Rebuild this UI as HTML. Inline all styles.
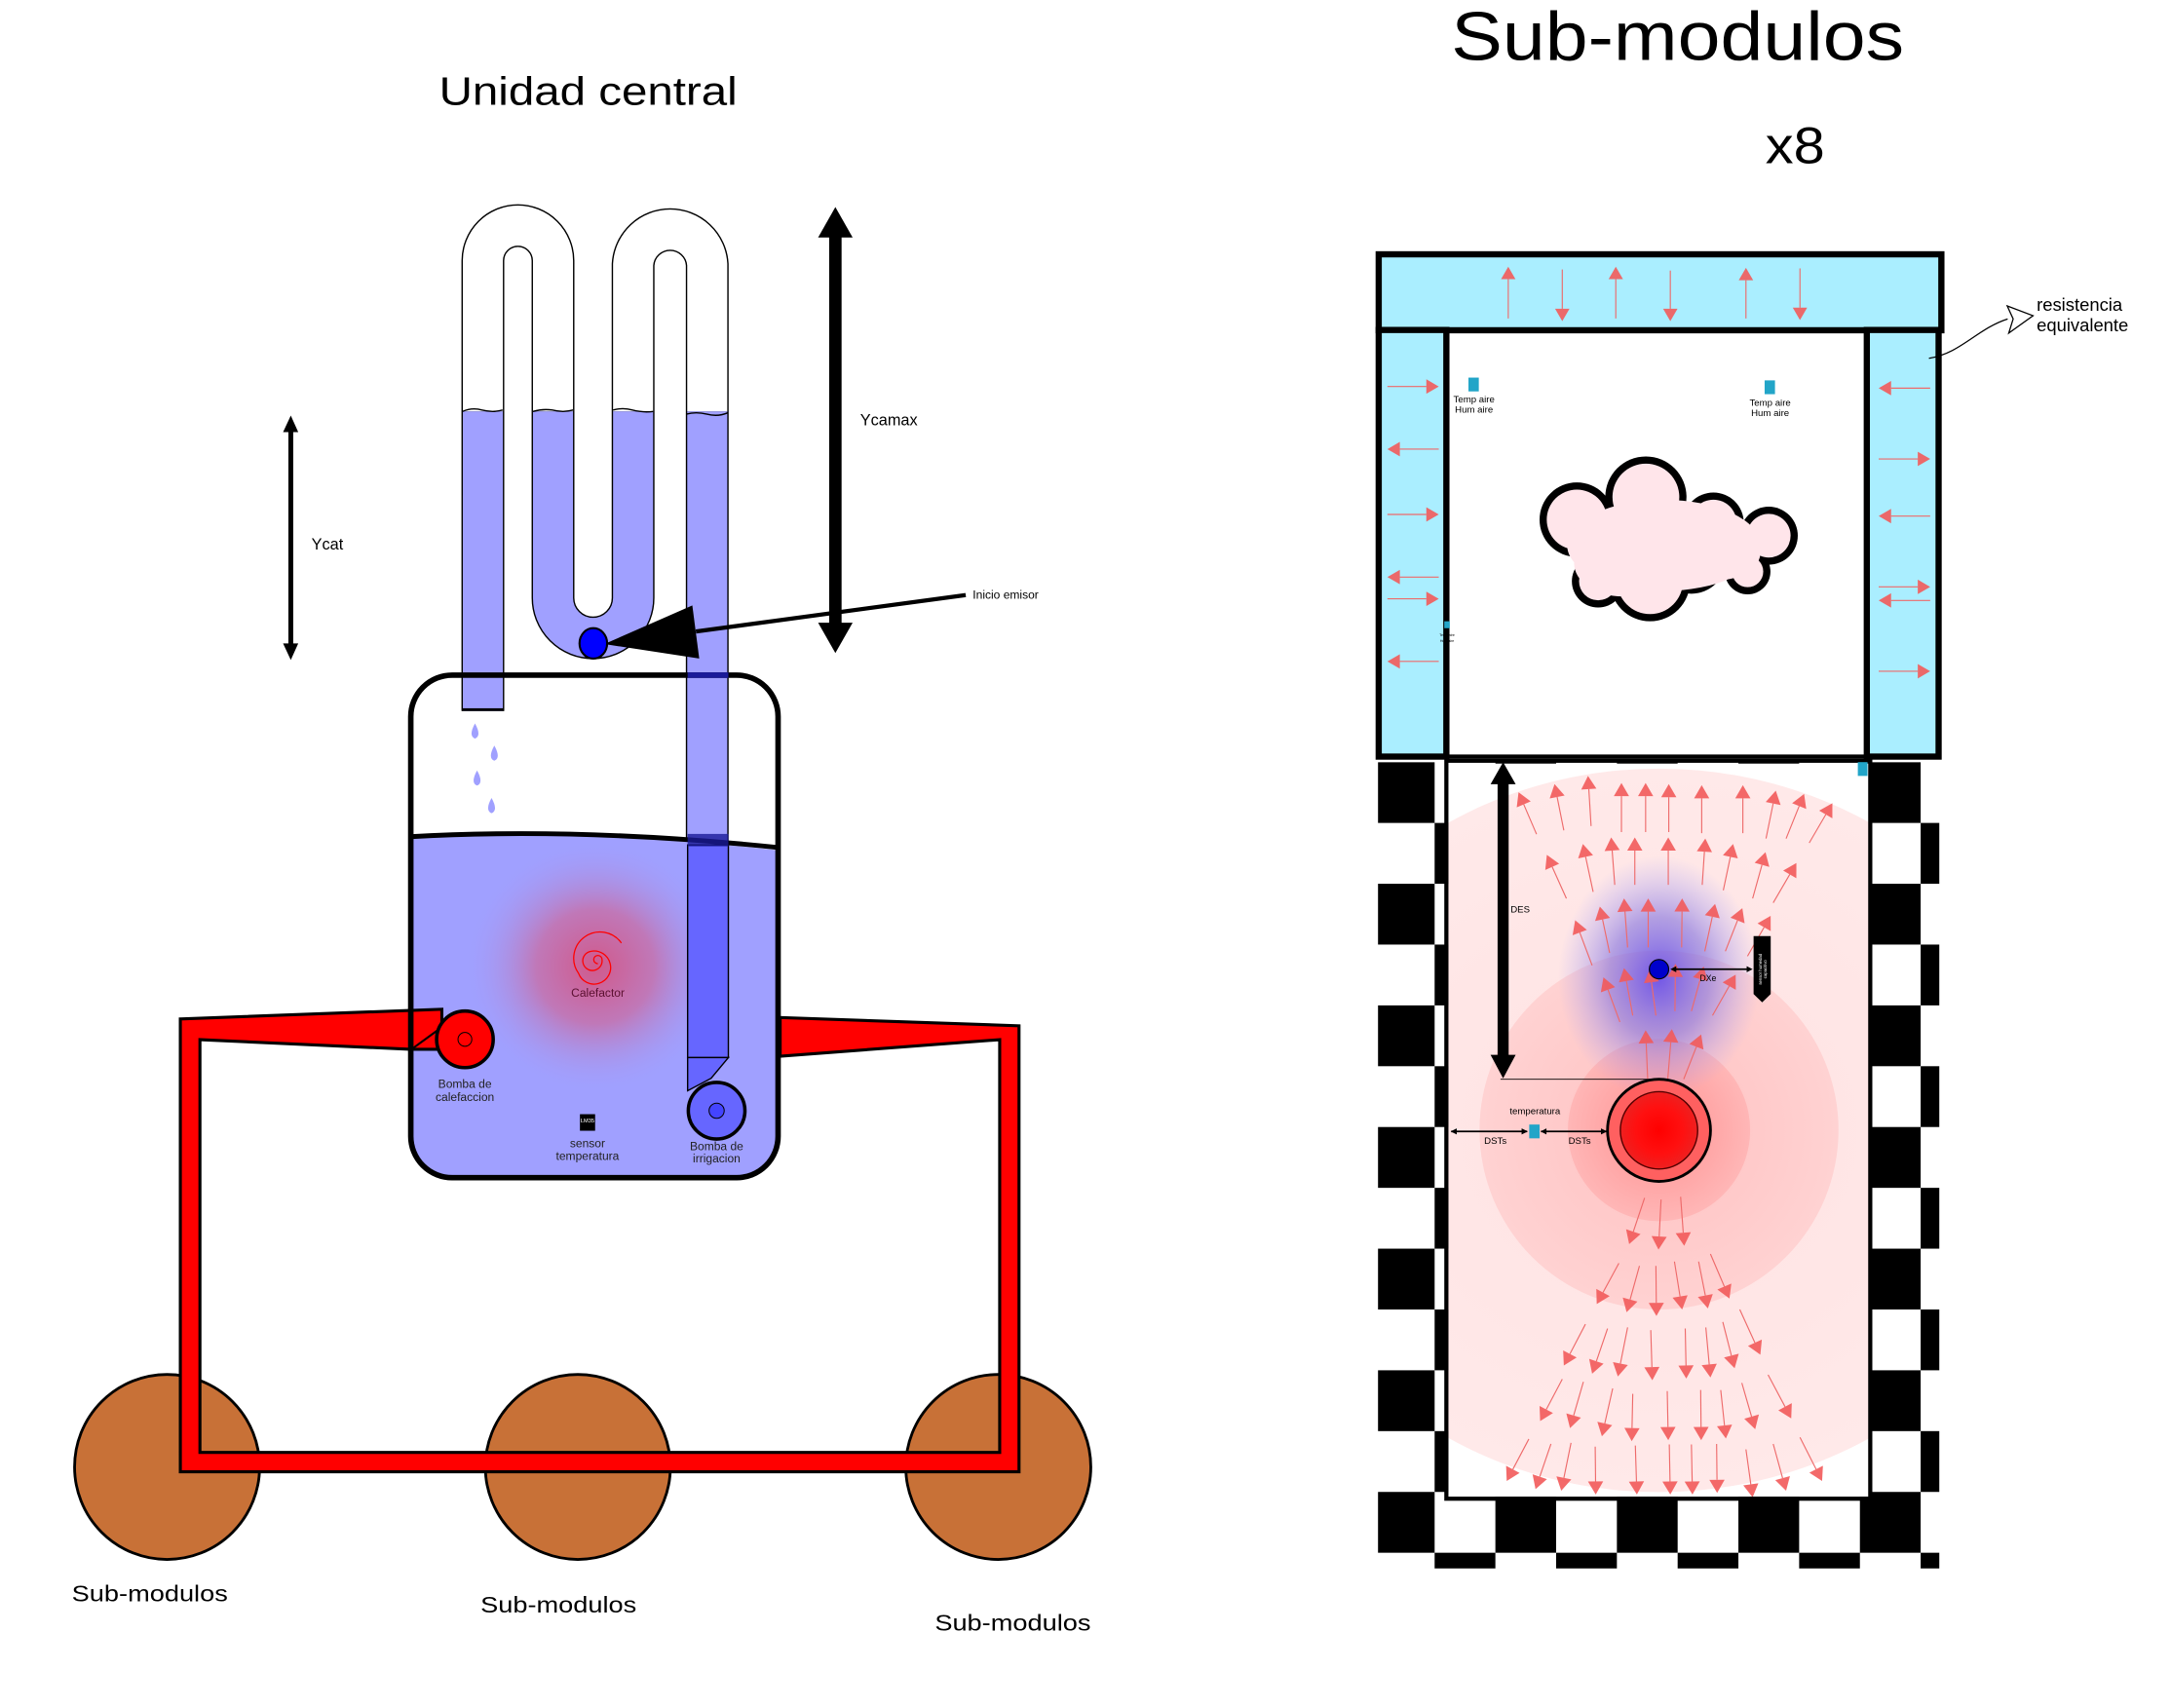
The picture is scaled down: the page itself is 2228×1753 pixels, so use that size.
<!DOCTYPE html>
<html><head><meta charset="utf-8">
<style>
html,body{margin:0;padding:0;background:#fff;}
svg{display:block;}
text{font-family:"Liberation Sans","DejaVu Sans",sans-serif;}
</style></head>
<body>
<svg id="root" width="2228" height="1753" viewBox="0 0 1572.3 1237.1" xmlns="http://www.w3.org/2000/svg">
<defs>
  <radialGradient id="heatGlow" cx="0.5" cy="0.5" r="0.5">
    <stop offset="0" stop-color="#d05a8c"/>
    <stop offset="0.45" stop-color="#c078b8"/>
    <stop offset="1" stop-color="#a0a0ff" stop-opacity="0"/>
  </radialGradient>
  <radialGradient id="pinkBig" cx="0.5" cy="0.5" r="0.5">
    <stop offset="0" stop-color="#ffe2e2"/>
    <stop offset="1" stop-color="#ffe9e9"/>
  </radialGradient>
  <radialGradient id="pinkMid" cx="0.5" cy="0.5" r="0.5">
    <stop offset="0" stop-color="#ffc0c0"/>
    <stop offset="1" stop-color="#ffd2d2"/>
  </radialGradient>
  <radialGradient id="pinkIn" cx="0.5" cy="0.5" r="0.5">
    <stop offset="0" stop-color="#ff8080"/>
    <stop offset="1" stop-color="#ffb0b0"/>
  </radialGradient>
  <radialGradient id="blueGlow" cx="0.5" cy="0.5" r="0.5">
    <stop offset="0" stop-color="#6a50e8" stop-opacity="0.95"/>
    <stop offset="0.5" stop-color="#8070e0" stop-opacity="0.6"/>
    <stop offset="1" stop-color="#a0a0ff" stop-opacity="0"/>
  </radialGradient>
  <radialGradient id="heaterCore" cx="0.5" cy="0.5" r="0.5">
    <stop offset="0" stop-color="#ff0000"/>
    <stop offset="0.6" stop-color="#ff1010"/>
    <stop offset="1" stop-color="#ee2020"/>
  </radialGradient>
  <clipPath id="checkClip"><rect x="998" y="552" width="406.5" height="584"/></clipPath>
  <clipPath id="innerClip"><rect x="1049" y="553" width="305" height="531"/></clipPath>
  <clipPath id="aboveWater"><rect x="0" y="0" width="800" height="298"/></clipPath>
  <clipPath id="belowWater"><rect x="0" y="298" width="800" height="600"/></clipPath>
  <clipPath id="tankClip"><rect x="298" y="490" width="266" height="362" rx="28"/></clipPath>
</defs>

<!-- Titles -->
<text x="318" y="75.7" font-size="28.5" textLength="216" lengthAdjust="spacingAndGlyphs">Unidad central</text>
<text x="1051" y="43.4" font-size="50" textLength="328" lengthAdjust="spacingAndGlyphs">Sub-modulos</text>
<text x="1278.6" y="118.3" font-size="37" textLength="43" lengthAdjust="spacingAndGlyphs">x8</text>

<!-- Brown sub-module circles -->
<g fill="#c87137" stroke="#000" stroke-width="2">
  <circle cx="121" cy="1062.5" r="67"/>
  <circle cx="418.5" cy="1062.5" r="67"/>
  <circle cx="723" cy="1062.5" r="67"/>
</g>
<text x="52" y="1160" font-size="16.5" textLength="113" lengthAdjust="spacingAndGlyphs">Sub-modulos</text>
<text x="348" y="1168" font-size="16.5" textLength="113" lengthAdjust="spacingAndGlyphs">Sub-modulos</text>
<text x="677" y="1181" font-size="16.5" textLength="113" lengthAdjust="spacingAndGlyphs">Sub-modulos</text>

<!-- Tank background -->
<rect x="297.5" y="489" width="266" height="364" rx="30" fill="#fff"/>

<!-- Siphon tubes -->
<g fill="none">
  <path d="M349.7,515 L349.7,188.8 A25.4,25.4 0 0 1 400.5,188.8 L400.5,433 A29,29 0 0 0 458.5,433 L458.5,191.6 A26.9,26.9 0 0 1 512.2,191.6 L512.2,766" stroke="#000" stroke-width="31"/>
  <path d="M349.7,515 L349.7,188.8 A25.4,25.4 0 0 1 400.5,188.8 L400.5,433 A29,29 0 0 0 458.5,433 L458.5,191.6 A26.9,26.9 0 0 1 512.2,191.6 L512.2,766" stroke="#fff" stroke-width="29" clip-path="url(#aboveWater)"/>
  <path d="M349.7,515 L349.7,188.8 A25.4,25.4 0 0 1 400.5,188.8 L400.5,433 A29,29 0 0 0 458.5,433 L458.5,191.6 A26.9,26.9 0 0 1 512.2,191.6 L512.2,766" stroke="#a0a0ff" stroke-width="29" clip-path="url(#belowWater)"/>
  <rect x="334.5" y="513" width="30.5" height="2" fill="#000"/>
  <path d="M335,298 q7,-3 14,-1 q8,2 15,0 M386,298 q7,-2 14,-1 q8,2 15,0 M444,297 q7,-2 14,0 q8,2 15,1 M497,300 q7,-2 15,0 q8,2 15,-1" stroke="#000" stroke-width="1"/>
</g>

<!-- Tank -->
<g>
  <path d="M297,607 Q420,600 565,616 L565,855 L297,855 Z" fill="#a0a0ff" clip-path="url(#tankClip)"/>
  <ellipse cx="431" cy="700" rx="95" ry="92" fill="url(#heatGlow)"/>
  <rect x="498" y="612" width="29.5" height="154" fill="#6666ff" stroke="#000" stroke-width="1"/>
  <path d="M498,766 L527.5,766 L515,781 L498,790 Z" fill="#6666ff" stroke="#000" stroke-width="1"/>
  <path d="M297,606 Q420,599 565,614" fill="none" stroke="#000" stroke-width="3.5"/>
  <rect x="297.5" y="489" width="266" height="364" rx="30" fill="none" stroke="#000" stroke-width="4"/>
  <rect x="498" y="487" width="29.5" height="4" fill="#1a1a99"/>
  <rect x="498" y="604" width="29.5" height="9" fill="#1a1a99" opacity="0.8"/>
  <path d="M431,703 a3,3 0 1 1 3,-3 a7,7 0 1 1 -8,-6 a12,12 0 1 1 -9,16 a17,17 0 0 1 31,-22" fill="none" stroke="#ff0000" stroke-width="0.9" transform="translate(2,-5)"/>
  <text x="433" y="722" font-size="8.5" fill="#5a1030" text-anchor="middle">Calefactor</text>
  <text x="336.7" y="788" font-size="8.5" text-anchor="middle" fill="#222">Bomba de</text>
  <text x="336.7" y="797.5" font-size="8.5" text-anchor="middle" fill="#222">calefaccion</text>
  <rect x="420" y="807" width="11" height="12" fill="#000"/>
  <text x="425.5" y="813" font-size="4" fill="#fff" text-anchor="middle">LM35</text>
  <text x="425.5" y="831" font-size="8.5" text-anchor="middle" fill="#222">sensor</text>
  <text x="425.5" y="840" font-size="8.5" text-anchor="middle" fill="#222">temperatura</text>
  <circle cx="519" cy="804.5" r="20.5" fill="#6666ff" stroke="#000" stroke-width="2.5"/>
  <circle cx="519" cy="804.5" r="5.5" fill="#4444ff" stroke="#000" stroke-width="0.7"/>
  <text x="519" y="833" font-size="8.5" text-anchor="middle" fill="#222">Bomba de</text>
  <text x="519" y="842" font-size="8.5" text-anchor="middle" fill="#222">irrigacion</text>
</g>

<!-- Red pipe loop -->
<path d="M130.6,738 L320,731 L320,760 L297.4,760 L144.8,753 L144.8,1052 L724,1052 L724,753 L565,765 L565,737 L738,743 L738,1066 L130.6,1066 Z" fill="#ff0000" stroke="#000" stroke-width="2.2" stroke-linejoin="miter"/>
<line x1="297.5" y1="731" x2="297.5" y2="760" stroke="#000" stroke-width="4"/>
<path d="M298,760 L320,744" stroke="#000" stroke-width="1.5"/>
<circle cx="336.7" cy="752.8" r="20.5" fill="#ff0000" stroke="#000" stroke-width="2.5"/>
<circle cx="336.7" cy="752.8" r="5" fill="none" stroke="#000" stroke-width="0.7"/>

<!-- Drops -->
<g fill="#a0a0ff">
  <path d="M344,524 q-5,9 0,11 q5,-2 0,-11z"/>
  <path d="M358,540 q-5,9 0,11 q5,-2 0,-11z"/>
  <path d="M345.5,558 q-5,9 0,11 q5,-2 0,-11z"/>
  <path d="M356,578 q-5,9 0,11 q5,-2 0,-11z"/>
</g>

<!-- Ycat arrow -->
<g>
  <line x1="210.6" y1="310" x2="210.6" y2="470" stroke="#000" stroke-width="3.5"/>
  <polygon points="210.6,301 205,313 216,313" fill="#000"/>
  <polygon points="210.6,478 205,466 216,466" fill="#000"/>
</g>
<text x="225.6" y="398" font-size="11.5">Ycat</text>
<!-- Ycamax arrow -->
<g>
  <line x1="605" y1="165" x2="605" y2="458" stroke="#000" stroke-width="9"/>
  <polygon points="605,150 592.5,172 617.5,172" fill="#000"/>
  <polygon points="605,473 592.5,451 617.5,451" fill="#000"/>
</g>
<text x="623" y="308" font-size="11.5">Ycamax</text>
<!-- Inicio emisor -->
<g>
  <path d="M699.4,431 L504,457.4" stroke="#000" stroke-width="3"/>
  <polygon points="501.4,438.5 506.4,477 437.7,466.5" fill="#000"/>
  <ellipse cx="429.7" cy="466" rx="10" ry="11" fill="#0000ff" stroke="#000" stroke-width="1.5"/>
</g>
<text x="704.5" y="433.7" font-size="8.5">Inicio emisor</text>

<!-- ============ Right: Sub-module ============ -->
<g clip-path="url(#checkClip)" id="checker"></g>

<g id="field" clip-path="url(#innerClip)">
  <rect x="1049" y="553" width="305" height="531" fill="#fff"/>
  <ellipse cx="1201.5" cy="818.7" rx="290" ry="262" fill="url(#pinkBig)"/>
  <circle cx="1201.5" cy="818.5" r="130" fill="url(#pinkMid)"/>
  <circle cx="1201.5" cy="818.5" r="66" fill="url(#pinkIn)" opacity="0.75"/>
  <ellipse cx="1201.5" cy="708" rx="73" ry="88" fill="url(#blueGlow)"/>
  <g id="fieldArrows"></g>
</g>
<rect x="1047.5" y="551" width="307" height="534.5" fill="none" stroke="#000" stroke-width="3"/>

<!-- Top enclosure -->
<g>
  <rect x="1047" y="239" width="305" height="310" fill="#fff"/>
  <rect x="998.5" y="184.2" width="407.5" height="55" fill="#aaeeff" stroke="#000" stroke-width="4.5"/>
  <rect x="998.5" y="239" width="49" height="309" fill="#aaeeff" stroke="#000" stroke-width="4.5"/>
  <rect x="1352" y="239" width="52" height="309" fill="#aaeeff" stroke="#000" stroke-width="4.5"/>
  <line x1="1047.5" y1="548" x2="1354" y2="548" stroke="#000" stroke-width="3"/>
  <g id="wallArrows"></g>
</g>

<!-- Cloud -->
<g id="cloud"></g>

<!-- Sensors -->
<rect x="1063.5" y="273.5" width="7.5" height="10" fill="#22a5c8"/>
<text x="1067.5" y="291.5" font-size="6.8" text-anchor="middle">Temp aire</text>
<text x="1067.5" y="299" font-size="6.8" text-anchor="middle">Hum aire</text>
<rect x="1278" y="275.5" width="7.5" height="10" fill="#22a5c8"/>
<text x="1282" y="293.8" font-size="6.8" text-anchor="middle">Temp aire</text>
<text x="1282" y="301.5" font-size="6.8" text-anchor="middle">Hum aire</text>
<rect x="1046" y="450" width="4" height="5" fill="#22a5c8"/>
<text x="1048" y="461" font-size="2.5" text-anchor="middle">Temp aire</text>
<text x="1048" y="465" font-size="2.5" text-anchor="middle">Hum aire</text>
<rect x="1345.5" y="552" width="7" height="10" fill="#22a5c8"/>

<!-- Resistance label -->
<path d="M1397,259.5 C1420,256 1432,238 1454,231" fill="none" stroke="#000" stroke-width="0.9"/>
<polygon points="1453.7,221.6 1472.4,228.7 1454.8,241.3 1458,231" fill="#fff" stroke="#000" stroke-width="0.9"/>
<text x="1475" y="225" font-size="13">resistencia</text>
<text x="1475" y="240" font-size="13">equivalente</text>

<!-- DES arrow -->
<g>
  <line x1="1088.6" y1="565" x2="1088.6" y2="768" stroke="#000" stroke-width="8"/>
  <polygon points="1088.6,552 1079.5,568 1097.7,568" fill="#000"/>
  <polygon points="1088.6,781 1079.5,764 1097.7,764" fill="#000"/>
  <line x1="1086.7" y1="781.7" x2="1196.6" y2="781.7" stroke="#000" stroke-width="0.7"/>
</g>
<text x="1094" y="661" font-size="6.8">DES</text>

<!-- Heater -->
<ellipse cx="1201.5" cy="818.7" rx="37.3" ry="37" fill="#ff6060" stroke="#000" stroke-width="2"/>
<ellipse cx="1201.5" cy="818.7" rx="28" ry="28" fill="url(#heaterCore)" stroke="#550000" stroke-width="1"/>

<!-- Humidity emitter + DXe -->
<circle cx="1201.5" cy="702" r="7" fill="#0000cc" stroke="#000" stroke-width="0.8"/>
<g>
  <line x1="1211" y1="702" x2="1268" y2="702" stroke="#000" stroke-width="1.3"/>
  <polygon points="1209.7,702 1214,699.8 1214,704.2" fill="#000"/>
  <polygon points="1269.3,702 1265,699.8 1265,704.2" fill="#000"/>
</g>
<text x="1231" y="710.5" font-size="6.2">DXe</text>
<path d="M1270,678 L1282.4,678 L1282.4,720 L1276.2,726 L1270,720 Z" fill="#000"/>
<text x="1276" y="702" font-size="3" fill="#fff" text-anchor="middle" transform="rotate(-90 1276 702)">sensor humedad</text>
<text x="1279.5" y="702" font-size="3" fill="#fff" text-anchor="middle" transform="rotate(-90 1279.5 702)">capacitivo</text>

<!-- DSTs -->
<g stroke="#000" stroke-width="1.2">
  <line x1="1051" y1="819.5" x2="1106" y2="819.5"/>
  <line x1="1116" y1="819.5" x2="1163.5" y2="819.5"/>
</g>
<g fill="#000">
  <polygon points="1050.6,819.5 1055,817.3 1055,821.7"/>
  <polygon points="1106.5,819.5 1102,817.3 1102,821.7"/>
  <polygon points="1115.8,819.5 1120,817.3 1120,821.7"/>
  <polygon points="1163.9,819.5 1159.5,817.3 1159.5,821.7"/>
</g>
<rect x="1107.5" y="814.5" width="7.5" height="10" fill="#22a5c8"/>
<text x="1111.7" y="807" font-size="6.8" text-anchor="middle">temperatura</text>
<text x="1083" y="828.5" font-size="6.8" text-anchor="middle">DSTs</text>
<text x="1144" y="828.5" font-size="6.8" text-anchor="middle">DSTs</text>
</svg>

<script>
// Heat-flow arrows (tail x,y -> head x,y), in zoomed reference units
const flowTails = [
 [335,172],[388,165],[441,157],[500,168],[547,168],[592,168],[656,170],[736,170],[781,180],[820,180],[865,188],
 [393,290],[445,278],[487,265],[526,265],[591,265],[657,265],[698,275],[755,290],[795,298],
 [443,413],[477,390],[512,380],[552,380],[617,380],[662,387],[702,387],[745,396],
 [497,517],[522,505],[567,505],[604,497],[636,497],[677,505],
 [551,622],[590,622],[621,622],
 [545,840],[577,843],[615,838],
 [495,960],[535,965],[567,965],[603,957],[650,957],[673,943],
 [430,1072],[473,1080],[512,1078],[557,1083],[624,1080],[664,1078],[697,1068],[730,1045],
 [385,1173],[426,1178],[483,1190],[522,1200],[589,1195],[654,1193],[693,1193],[734,1180],[785,1165],
 [320,1283],[363,1292],[402,1290],[449,1297],[527,1295],[593,1293],[636,1293],[685,1292],[742,1302],[795,1292],[847,1280]
];
const flowHeads = [
 [300,95],[370,80],[435,65],[500,78],[547,78],[592,80],[656,82],[736,82],[800,92],[855,98],[910,115],
 [355,210],[425,190],[480,178],[526,178],[591,178],[663,180],[717,190],[780,205],[840,225],
 [410,330],[458,305],[505,290],[552,290],[618,290],[682,300],[735,308],[790,322],
 [465,435],[505,418],[555,420],[605,410],[660,415],[722,430],
 [547,532],[598,530],[655,540],
 [515,925],[572,935],[622,928],
 [452,1035],[510,1050],[568,1057],[618,1045],[668,1043],[710,1025],
 [388,1148],[443,1163],[493,1168],[560,1175],[626,1172],[673,1170],[720,1153],[770,1128],
 [342,1250],[400,1263],[462,1278],[520,1287],[591,1285],[655,1285],[703,1282],[760,1265],[830,1245],
 [277,1360],[333,1375],[383,1378],[450,1385],[530,1385],[595,1385],[638,1385],[686,1382],[755,1390],[820,1378],[890,1360]
];
const topArrowX = [280,385,489,595,742,847];
const topArrowTail = [585,495,585,497,585,493];
const topArrowHead = [490,590,490,590,492,588];
const leftArrowY = [710,825,945,1060,1100,1215];
const leftArrowDir = [1,-1,1,-1,1,-1];
const rightArrowY = [713,843,948,1078,1103,1233];
const rightArrowDir = [-1,1,-1,1,-1,1];

const NS = 'http://www.w3.org/2000/svg';
function zx3(x){return 988 + x*0.3726;}
function zy3(y){return 536.4 + y*0.3943;}
function zx2(x){return 988 + x*0.3726;}
function zy2(y){return y*0.3943;}

function mk(tag, attrs, parent){
  const e = document.createElementNS(NS, tag);
  for (const k in attrs) e.setAttribute(k, attrs[k]);
  parent.appendChild(e);
  return e;
}
function arrow(parent, x1,y1,x2,y2, size, name){
  const g = mk('g', {}, parent);
  
  
  const dx=x2-x1, dy=y2-y1, L=Math.hypot(dx,dy)||1, ux=dx/L, uy=dy/L;
  const bx=x2-ux*size, by=y2-uy*size, w=size*0.58;
  mk('line',{x1:x1,y1:y1,x2:bx,y2:by,stroke:'#ee6a6a','stroke-width':0.8},g);
  mk('polygon',{points:x2+','+y2+' '+(bx-uy*w)+','+(by+ux*w)+' '+(bx+uy*w)+','+(by-ux*w),fill:'#f25a5a','fill-opacity':0.9},g);
}

const checker = document.getElementById('checker');
for (let r=0;r<14;r++){
  for (let c=0;c<10;c++){
    if ((r+c)%2===0){
      const sq = mk('rect',{x:995+c*44,y:552+r*44.05,width:44,height:44.05,fill:'#000'},checker);
      
      
    }
  }
}

const fa = document.getElementById('fieldArrows');
for (let i=0;i<flowTails.length;i++){
  arrow(fa, zx3(flowTails[i][0]), zy3(flowTails[i][1]), zx3(flowHeads[i][0]), zy3(flowHeads[i][1]), 9.5, 'heat-flow-arrow');
}
const wa = document.getElementById('wallArrows');
for (let i=0;i<topArrowX.length;i++){
  arrow(wa, zx2(topArrowX[i]), zy2(topArrowTail[i]), zx2(topArrowX[i]), zy2(topArrowHead[i]), 9, 'wall-arrow-top');
}
for (let i=0;i<leftArrowY.length;i++){
  const a=1004.8, b=1042, y=zy2(leftArrowY[i]);
  if (leftArrowDir[i]>0) arrow(wa,a,y,b,y,9,'wall-arrow-left'); else arrow(wa,b,y,a,y,9,'wall-arrow-left');
}
for (let i=0;i<rightArrowY.length;i++){
  const a=1360.6, b=1397.9, y=zy2(rightArrowY[i]);
  if (rightArrowDir[i]>0) arrow(wa,a,y,b,y,9,'wall-arrow-right'); else arrow(wa,b,y,a,y,9,'wall-arrow-right');
}

const cloud = document.getElementById('cloud');
const bumps = [[1142,376.4,27],[1192,360,29.4],[1240.9,378.7,22],[1281,388,21],[1157.4,421,19],[1195,421,29],[1265.7,414,16.5],[1204.5,397,35],[1225,405,25]];
for (const b of bumps) mk('circle',{cx:b[0],cy:b[1],r:b[2],fill:'#000'},cloud);
for (const b of bumps) mk('circle',{cx:b[0],cy:b[1],r:b[2]-5.2,fill:'#ffe5ea'},cloud);
mk('ellipse',{cx:1205,cy:395,rx:70,ry:33,fill:'#ffe5ea'},cloud);
mk('ellipse',{cx:1175,cy:408,rx:35,ry:24,fill:'#ffe5ea'},cloud);
mk('ellipse',{cx:1245,cy:400,rx:30,ry:20,fill:'#ffe5ea'},cloud);
</script>
</body></html>
